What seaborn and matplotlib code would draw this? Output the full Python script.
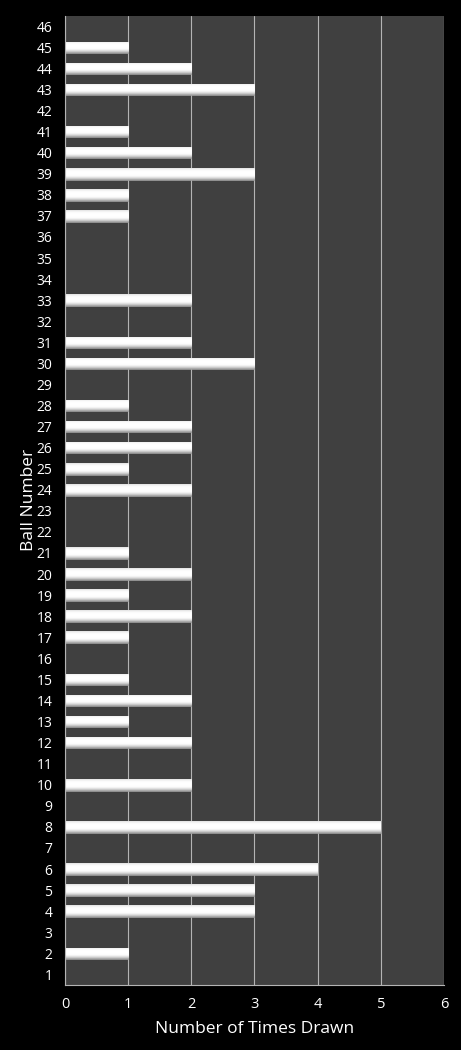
import numpy as np
import pandas as pd
import seaborn as sns
import matplotlib.pyplot as plt

balls = list(range(1, 47))
times = [0, 1, 0, 3, 3, 4, 0, 5, 0, 2,
         0, 2, 1, 2, 1, 0, 1, 2, 1, 2,
         1, 0, 0, 2, 1, 2, 2, 1, 0, 3,
         2, 0, 2, 0, 0, 0, 1, 1, 3, 2,
         1, 0, 3, 2, 1, 0]

df = pd.DataFrame({'ball': [str(b) for b in balls], 'times': times})
order = [str(b) for b in balls[::-1]]

sns.set_style('dark')
plt.rcParams['font.family'] = ['Open Sans', 'DejaVu Sans']

fig = plt.figure(figsize=(4.61, 10.5), dpi=100, facecolor='black')
ax = fig.add_axes([0.141, 0.062, 0.822, 0.923])
ax.set_facecolor('#404040')

sns.barplot(data=df, x='times', y='ball', order=order, orient='h',
            color='#f4f4f4', width=0.55, edgecolor='#8c8c8c', linewidth=0.5, ax=ax)

# cylinder-like shading on each bar (light top, white middle, grey bottom)
t = np.linspace(0, 1, 40)
shade = 1.0 - 0.12 * (1 - t / 0.3).clip(0) ** 2 - 0.38 * ((t - 0.55) / 0.45).clip(0) ** 2
grad = shade.reshape(-1, 1)
for p in ax.patches:
    w = p.get_width()
    if w <= 0:
        continue
    x0, y0 = p.get_x(), p.get_y()
    h = p.get_height()
    im = ax.imshow(grad, cmap='gray', vmin=0, vmax=1, aspect='auto',
                   extent=(x0, x0 + w, y0 + h, y0), zorder=p.get_zorder() + 0.1,
                   interpolation='bilinear')
    im.set_clip_path(p)

ax.set_xlim(0, 6)
ax.set_ylim(len(order) - 0.5, -0.5)
ax.set_xticks(range(0, 7))
ax.grid(axis='x', color='#b4b4b4', linewidth=0.8)
ax.grid(axis='y', visible=False)
ax.set_axisbelow(True)

for s in ['top', 'right']:
    ax.spines[s].set_visible(False)
for s in ['left', 'bottom']:
    ax.spines[s].set_visible(True)
    ax.spines[s].set_color('#b4b4b4')
    ax.spines[s].set_linewidth(0.8)

ax.tick_params(axis='y', colors='white', labelsize=10, length=0, pad=9)
ax.tick_params(axis='x', colors='white', labelsize=10.5, length=0, pad=9)
ax.set_xlabel('Number of Times Drawn', color='white', fontsize=12.5, labelpad=6)
ax.set_ylabel('Ball Number', color='white', fontsize=12.5, labelpad=0)

fig.savefig('out.png', dpi=100, facecolor='black')
